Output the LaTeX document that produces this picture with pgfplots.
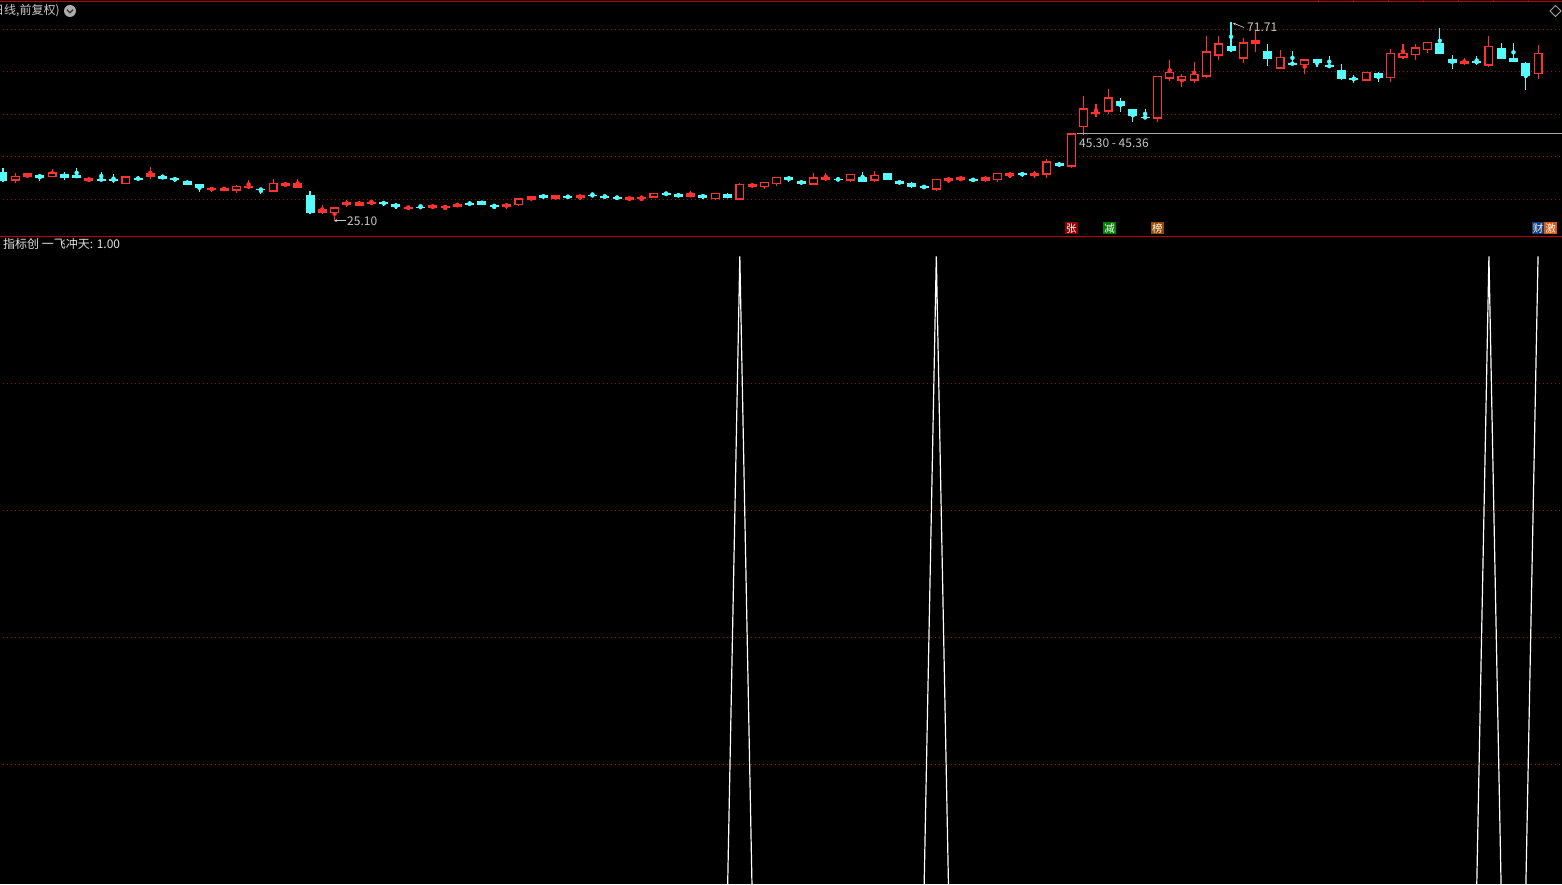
\documentclass[border=0pt]{standalone}
\usepackage{pgfplots}
\pgfplotsset{compat=1.18}
\usepackage{pgfplotstable}
\usetikzlibrary{arrows.meta}
\usepackage{fontspec}
\setmainfont{Noto Sans CJK SC}
\definecolor{cRed}{RGB}{255,50,50}
\definecolor{cCyan}{RGB}{84,252,252}
\definecolor{cGrid}{RGB}{150,20,20}
\definecolor{cSep}{RGB}{190,0,0}
\definecolor{cTxt}{RGB}{200,200,200}
\definecolor{cLine}{RGB}{170,170,170}
\definecolor{mRed}{RGB}{140,0,0}
\definecolor{mGreen}{RGB}{0,128,0}
\definecolor{mBrown}{RGB}{150,75,0}
\definecolor{mBlue}{RGB}{20,60,120}
\definecolor{mOrange}{RGB}{210,90,20}

% hollow candle body: half height \hh (pt) comes from the data
\pgfdeclareplotmark{candlebox}{%
  \pgfpathrectanglecorners{\pgfpoint{-3.9pt}{-\hh pt}}{\pgfpoint{3.9pt}{\hh pt}}%
  \pgfusepathqfillstroke}

\pgfplotsset{
  wick/.style={color=#1, only marks, mark=none, error bars/.cd, y dir=both, y explicit, error mark=none, error bar style={line width=1.1pt, solid, color=#1}},
  body/.style 2 args={color=#1, only marks, mark=none, error bars/.cd, y dir=both, y explicit, error mark=none, error bar style={line width=#2, solid, color=#1}},
  gridln/.style={cGrid, line width=1pt, dash pattern=on 1pt off 3pt, forget plot},
}

% red hollow candles (o = open, c = close)
\pgfplotstableread{
x o h l c
1 34.38 36.11 33.91 35.48
2 35.33 36.11 34.93 36.11
4 35.17 37.13 35.17 36.35
10 33.52 35.40 33.52 35.40
19 32.03 33.44 31.48 33.13
22 31.80 34.78 31.80 33.84
27 26.70 28.11 25.10 28.11
42 28.66 30.23 28.50 30.23
53 30.38 31.48 30.23 31.48
58 30.07 31.48 29.91 31.48
60 29.91 33.84 29.84 33.60
62 32.82 34.07 32.42 34.07
63 33.52 35.25 33.21 35.25
66 33.44 36.19 33.44 35.17
69 34.38 35.95 34.07 35.95
71 34.38 36.66 34.07 35.72
76 32.27 34.78 31.95 34.78
81 34.54 36.19 34.07 36.19
85 35.80 39.48 35.09 38.93
87 37.68 45.52 37.36 45.52
88 46.93 54.31 45.21 51.40
90 50.62 55.95 50.07 53.99
94 48.97 59.01 48.27 59.01
95 58.38 62.78 57.91 59.95
96 57.91 59.48 56.50 59.01
97 57.91 62.31 57.29 59.48
98 58.85 68.42 58.62 64.82
99 63.80 68.42 62.78 66.70
101 63.09 67.87 62.15 66.93
104 60.74 65.13 60.74 63.56
106 61.52 62.93 59.48 62.93
111 57.91 59.95 57.91 59.95
113 58.54 65.36 57.60 64.42
114 63.33 66.54 63.09 64.42
115 63.95 66.54 62.78 65.76
116 65.05 67.01 64.50 67.01
121 61.44 68.42 61.13 66.07
125 59.40 66.31 58.31 64.42
}\tabRH

% red filled candles
\pgfplotstableread{
x o h l c
7 35.01 35.01 34.15 34.38
12 36.27 37.60 34.85 35.33
17 32.66 32.97 31.80 32.19
18 32.74 32.89 32.03 32.03
20 33.21 34.54 32.50 32.74
23 33.76 34.07 33.05 33.05
24 33.76 34.78 32.74 32.74
26 27.72 28.58 26.62 26.78
28 29.29 29.84 28.27 28.66
29 29.44 29.68 28.42 28.50
30 29.36 29.84 28.97 28.97
33 28.19 28.42 27.72 27.72
35 28.66 28.66 27.72 28.03
36 28.42 28.42 27.48 28.03
37 28.89 29.13 28.27 28.27
41 28.97 29.21 27.72 28.19
43 30.78 30.78 29.60 29.84
45 31.01 31.01 29.84 30.07
47 31.01 31.01 29.84 30.38
51 30.54 30.54 29.60 29.91
52 30.54 30.54 29.60 30.23
56 31.40 31.95 30.46 30.46
61 33.52 33.84 32.74 32.97
67 35.17 36.19 34.31 34.62
77 35.01 35.01 33.84 34.38
78 35.25 35.25 34.23 34.62
80 35.33 35.56 34.15 34.31
82 36.19 36.19 35.01 35.56
84 36.19 36.66 35.01 35.56
89 50.62 52.42 49.44 50.07
102 67.48 69.52 64.66 66.62
119 62.62 63.25 61.60 61.84
}\tabRF

% cyan (falling) candles
\pgfplotstableread{
x o h l c
0 36.42 37.29 33.99 34.38
3 35.80 36.03 34.38 35.09
5 36.03 36.42 34.62 35.09
6 35.80 37.36 35.09 35.09
8 34.70 36.35 34.54 34.54
9 34.70 35.95 33.76 34.38
11 35.09 35.48 34.31 34.62
13 35.40 35.80 34.85 34.85
14 34.93 35.25 34.15 34.46
15 34.31 34.62 33.29 33.44
16 33.60 33.60 31.80 32.58
21 32.50 32.66 31.33 32.11
25 31.01 31.87 26.62 26.85
31 29.29 29.52 28.50 28.97
32 28.82 29.05 27.80 28.27
34 28.27 28.66 28.03 28.03
38 29.13 29.60 28.42 28.74
39 29.60 29.60 28.74 28.74
40 28.66 28.66 27.72 28.27
44 31.09 31.33 30.07 30.23
46 30.85 31.09 30.07 30.31
48 31.01 31.48 30.78 30.78
49 30.78 31.01 30.38 30.38
50 30.54 30.78 30.07 30.07
54 31.48 31.72 31.01 31.01
55 31.17 31.33 30.62 30.62
57 31.09 31.33 30.07 30.38
59 31.25 31.40 30.23 30.23
64 35.33 35.56 34.07 34.54
65 34.38 34.54 33.36 33.60
68 34.85 35.01 34.31 34.54
70 35.25 36.42 34.07 34.07
72 36.19 36.19 34.62 34.62
73 34.23 34.62 33.36 33.68
74 33.91 34.07 32.66 32.97
75 33.13 33.29 32.42 32.74
79 34.85 35.09 34.07 34.23
83 36.19 36.50 35.25 35.64
86 38.46 38.78 37.68 37.84
91 53.13 53.84 50.54 51.95
92 51.25 51.25 48.27 49.68
93 49.44 51.25 48.89 49.05
100 66.07 71.71 64.74 64.97
103 64.89 66.54 61.36 62.93
105 62.15 64.89 61.68 61.68
107 62.93 62.93 61.21 62.15
108 61.60 63.72 61.05 61.05
109 60.42 61.84 58.07 58.31
110 58.62 59.25 57.44 58.07
112 59.80 59.95 57.60 58.62
117 66.78 70.31 64.27 64.27
118 63.01 63.95 60.66 62.15
120 62.54 63.72 61.60 61.99
122 65.60 66.78 63.09 63.09
123 63.25 66.78 62.38 62.38
124 62.07 62.31 55.72 59.09
}\tabCY

% indicator
\pgfplotstableread{
x y
0 0
1 0
2 0
3 0
4 0
5 0
6 0
7 0
8 0
9 0
10 0
11 0
12 0
13 0
14 0
15 0
16 0
17 0
18 0
19 0
20 0
21 0
22 0
23 0
24 0
25 0
26 0
27 0
28 0
29 0
30 0
31 0
32 0
33 0
34 0
35 0
36 0
37 0
38 0
39 0
40 0
41 0
42 0
43 0
44 0
45 0
46 0
47 0
48 0
49 0
50 0
51 0
52 0
53 0
54 0
55 0
56 0
57 0
58 0
59 0
60 1
61 0
62 0
63 0
64 0
65 0
66 0
67 0
68 0
69 0
70 0
71 0
72 0
73 0
74 0
75 0
76 1
77 0
78 0
79 0
80 0
81 0
82 0
83 0
84 0
85 0
86 0
87 0
88 0
89 0
90 0
91 0
92 0
93 0
94 0
95 0
96 0
97 0
98 0
99 0
100 0
101 0
102 0
103 0
104 0
105 0
106 0
107 0
108 0
109 0
110 0
111 0
112 0
113 0
114 0
115 0
116 0
117 0
118 0
119 0
120 0
121 1
122 0
123 0
124 0
125 1
}\tabIND

\begin{document}
\begin{tikzpicture}
\useasboundingbox (0,0) rectangle (1562pt,884pt);
\clip (0,0) rectangle (1562pt,884pt);
\fill[black] (0,0) rectangle (1562pt,884pt);

% ---------- price panel ----------
\begin{axis}[at={(0pt,648pt)}, anchor=south west, scale only axis,
  width=1562pt, height=236pt,
  xmin=-0.2443, xmax=126.95, ymin=21.36, ymax=76.89,
  hide axis, clip=true]
\addplot[gridln] coordinates {(-1,30) (128,30)};
\addplot[gridln] coordinates {(-1,40) (128,40)};
\addplot[gridln] coordinates {(-1,50) (128,50)};
\addplot[gridln] coordinates {(-1,60) (128,60)};
\addplot[gridln] coordinates {(-1,70) (128,70)};
\addplot[wick=cCyan] table[x=x, y expr={(\thisrow{h}+\thisrow{l})/2}, y error expr={(\thisrow{h}-\thisrow{l})/2}] {\tabCY};
\addplot[body={cCyan}{9pt}] table[x=x, y expr={(\thisrow{o}+\thisrow{c})/2}, y error expr={max(abs(\thisrow{o}-\thisrow{c})/2,0.12)}] {\tabCY};
\addplot[wick=cRed] table[x=x, y expr={(\thisrow{h}+\thisrow{l})/2}, y error expr={(\thisrow{h}-\thisrow{l})/2}] {\tabRF};
\addplot[body={cRed}{9pt}] table[x=x, y expr={(\thisrow{o}+\thisrow{c})/2}, y error expr={max(abs(\thisrow{o}-\thisrow{c})/2,0.12)}] {\tabRF};
\addplot[wick=cRed] table[x=x, y expr={(\thisrow{h}+\thisrow{l})/2}, y error expr={(\thisrow{h}-\thisrow{l})/2}] {\tabRH};
% hollow bodies: 1 price unit = 4.25pt on this axis
\addplot[only marks, mark=candlebox,
  mark options={draw=cRed, fill=black, line width=1.3pt, solid},
  visualization depends on={max(abs(\thisrow{o}-\thisrow{c})*2.125-0.65,0) \as \hh}]
  table[x=x, y expr={(\thisrow{o}+\thisrow{c})/2}] {\tabRH};
\addplot[cLine, line width=0.8pt, mark=none] coordinates {(87.45,45.52) (127.5,45.52)};
\end{axis}

% ---------- indicator panel ----------
\begin{axis}[at={(0pt,0pt)}, anchor=south west, scale only axis,
  width=1562pt, height=647pt,
  xmin=-0.2443, xmax=126.95, ymin=0.0115, ymax=1.0304,
  hide axis, clip=true]
\addplot[gridln] coordinates {(-1,0.2) (128,0.2)};
\addplot[gridln] coordinates {(-1,0.4) (128,0.4)};
\addplot[gridln] coordinates {(-1,0.6) (128,0.6)};
\addplot[gridln] coordinates {(-1,0.8) (128,0.8)};
\addplot[white, line width=1.2pt, mark=none] table[x=x, y=y] {\tabIND};
\end{axis}

% ---------- frame lines ----------
\draw[cSep, line width=1pt] (0,647.5pt) -- (1562pt,647.5pt);
\draw[cSep, line width=1pt] (0,882.8pt) -- (1562pt,882.8pt);
\foreach \t in {1318,1353,1388,1423,1458,1493,1528}
  \draw[cSep, line width=0.8pt] (\t pt,882.8pt) -- (\t pt,885pt);

% ---------- texts ----------
\node[anchor=base west, inner sep=0, text=cTxt, font=\fontsize{12}{14}\selectfont] at (-8pt,869pt) {日线,前复权)};
\fill[gray!65] (70pt,873pt) circle (6pt);
\draw[black!80, line width=1.3pt] (67pt,874.3pt) -- (70pt,871.3pt) -- (73pt,874.3pt);
\draw[gray!70, line width=0.8pt] (1555.5pt,878.5pt) -- (1561pt,873pt) -- (1555.5pt,867.5pt) -- (1550pt,873pt) -- cycle;

\node[anchor=base west, inner sep=0, text=white!88!black, font=\fontsize{12}{14}\selectfont] at (3pt,635pt) {指标创\ 一飞冲天: 1.00};

\node[anchor=base west, inner sep=0, text=cTxt, font=\fontsize{12}{14}\selectfont] at (1079pt,736pt) {45.30 - 45.36};
\node[anchor=base west, inner sep=0, text=cTxt, font=\fontsize{12}{14}\selectfont] at (1247pt,852.5pt) {71.71};
\draw[cTxt, line width=0.7pt, -{Stealth[length=3pt,width=3pt]}] (1244pt,856.5pt) -- (1233pt,861pt);
\node[anchor=base west, inner sep=0, text=cTxt, font=\fontsize{12}{14}\selectfont] at (347pt,658.5pt) {25.10};
\draw[cTxt, line width=0.7pt, -{Stealth[length=3pt,width=3pt]}] (346pt,663.3pt) -- (334pt,663.3pt);

\tikzset{evt/.style={fill=#1, text=white, inner sep=0pt, minimum width=12.6pt, minimum height=12.4pt, font=\fontsize{10.5}{11}\selectfont}}
\node[evt=mRed] at (1071.4pt,655.7pt) {张};
\node[evt=mGreen] at (1109.7pt,655.7pt) {减};
\node[evt=mBrown] at (1157.4pt,655.7pt) {榜};
\node[evt=mBlue] at (1538.2pt,655.7pt) {财};
\node[evt=mOrange] at (1550.6pt,655.7pt) {激};
\end{tikzpicture}
\end{document}
